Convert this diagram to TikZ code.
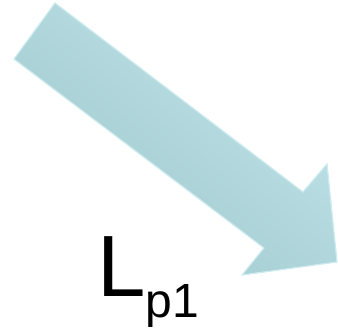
\documentclass[tikz,border=0pt]{standalone}
\usepackage{fontspec}
\setmainfont{Liberation Sans}
\usepackage{tikz}
\usetikzlibrary{arrows.meta, positioning}
\definecolor{bleuclair}{HTML}{C0E5EA}
\definecolor{bleufonce}{HTML}{9FC7CC}
\definecolor{bord}{HTML}{CDEBEE}
\definecolor{ombre}{HTML}{7A7A7A}

\begin{document}
\begin{tikzpicture}[x=1pt, y=-1pt]
    \useasboundingbox (0,0) rectangle (338,333);
    % contour de la fleche
    \coordinate (hg) at (55,3);
    \coordinate (encH) at (303,192);
    \coordinate (pointeH) at (327,164);
    \coordinate (bout) at (337,262);
    \coordinate (pointeB) at (242,275);
    \coordinate (encB) at (264,248);
    \coordinate (bg) at (14,59);
    % ombre
    \foreach \d/\op in {7/0.05, 6/0.06, 5/0.07, 4/0.08, 3/0.09, 2/0.1} {
      \fill[ombre, opacity=\op, shift={(-\d*0.35,\d)}]
        (hg) -- (encH) -- (pointeH) -- (bout) -- (pointeB) -- (encB) -- (bg) -- cycle;
    }
    \shade[top color=bleuclair, bottom color=bleufonce, shading angle=-40]
      (hg) -- (encH) -- (pointeH) -- (bout) -- (pointeB) -- (encB) -- (bg) -- cycle;
    \draw[bord, line width=1.2pt, line join=miter]
      (hg) -- (encH) -- (pointeH) -- (bout) -- (pointeB) -- (encB) -- (bg) -- cycle;
    % etiquette
    \node[anchor=base west, inner sep=0pt, font=\fontsize{87}{87}\selectfont] (lab) at (97,296)
      {L\raisebox{-21pt}{\fontsize{48}{48}\selectfont p1}};
  \end{tikzpicture}
\end{document}
